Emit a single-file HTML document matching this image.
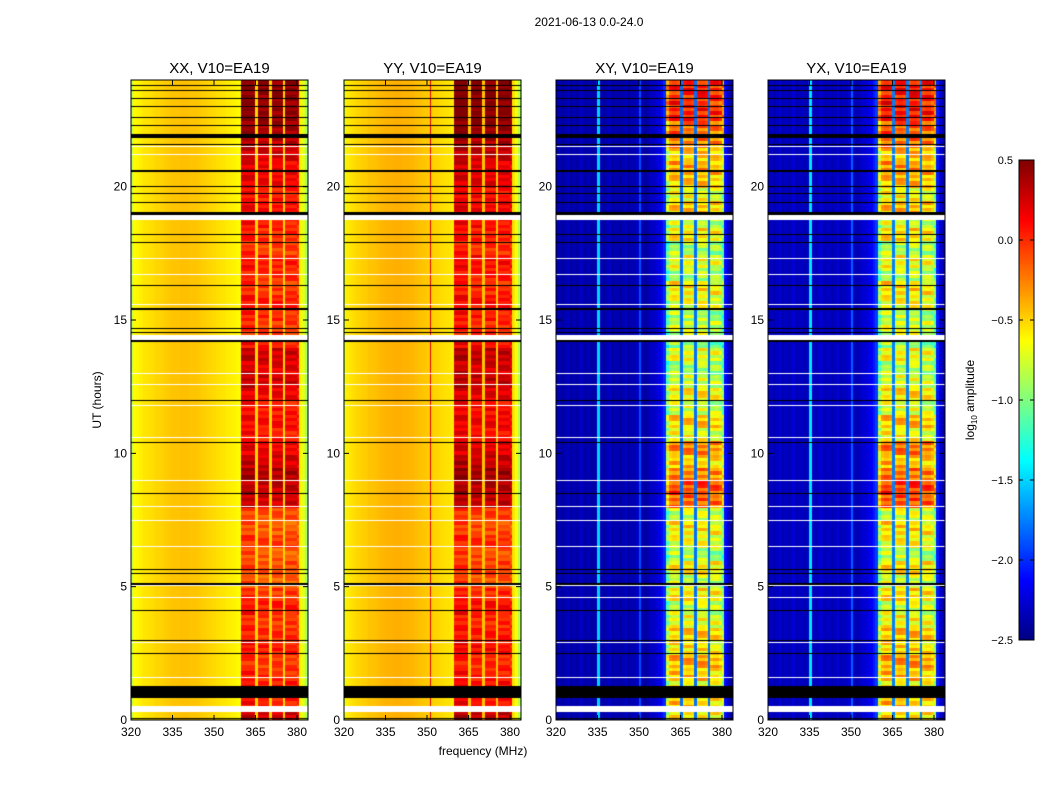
<!DOCTYPE html>
<html><head><meta charset="utf-8">
<style>
body{margin:0;background:#fff;width:1050px;height:800px;overflow:hidden;font-family:"Liberation Sans",sans-serif}
#wrap{position:relative;width:1050px;height:800px}
canvas{position:absolute}
svg{position:absolute;left:0;top:0}
</style></head>
<body>
<div id="wrap">
<canvas id="c0" width="177" height="640" style="left:131px;top:80px"></canvas>
<canvas id="c1" width="177" height="640" style="left:344px;top:80px"></canvas>
<canvas id="c2" width="177" height="640" style="left:556px;top:80px"></canvas>
<canvas id="c3" width="177" height="640" style="left:768px;top:80px"></canvas>
<canvas id="cb" width="15" height="480" style="left:1019px;top:160px"></canvas>
<svg id="ov" width="1050" height="800"></svg>
</div>
<script>
// ---- data ----
const panelTitles = ["XX, V10=EA19","YY, V10=EA19","XY, V10=EA19","YX, V10=EA19"];
const freqTicks = [320,335,350,365,380];
const timeTicks = [0,5,10,15,20];
const cbTicks = [0.5,0.0,-0.5,-1.0,-1.5,-2.0,-2.5];
// frequency profile (1 MHz bins, 320..384) for parallel hands
const specPar = [-0.8,-0.62,-0.6,-0.58,-0.56,-0.55,-0.54,-0.53,-0.52,-0.5,-0.5,-0.49,-0.48,-0.47,-0.46,-0.45,-0.45,-0.45,-0.44,-0.44,-0.44,-0.45,-0.45,-0.45,-0.46,-0.47,-0.48,-0.49,-0.5,-0.51,-0.52,-0.53,-0.54,-0.55,-0.56,-0.57,-0.58,-0.59,-0.6,-0.62,
 0.0,0.0,0.0,0.0,0.0,-0.5,-0.05,-0.05,-0.05,-0.05,-0.5,-0.05,-0.05,-0.05,-0.05,-0.5,-0.05,-0.05,-0.05,-0.05,-0.1,-0.6,-0.7,-0.9,-1.0];
// frequency profile for cross hands
const specX = [-2.35,-2.35,-2.4,-2.35,-2.3,-2.4,-2.35,-2.4,-2.35,-2.3,-2.4,-2.35,-2.35,-2.4,-2.35,-1.5,-2.35,-2.4,-2.35,-2.3,-2.4,-2.35,-2.35,-2.4,-2.35,-2.3,-2.4,-2.35,-2.35,-2.3,-1.9,-2.35,-2.4,-2.35,-2.3,-2.3,-2.25,-2.2,-2.1,-2.0,
 -0.9,-0.6,-0.55,-0.55,-0.6,-1.8,-0.6,-0.55,-0.55,-0.6,-1.8,-0.6,-0.55,-0.55,-0.6,-1.8,-0.65,-0.6,-0.6,-0.7,-0.9,-2.1,-2.3,-2.4,-2.4];
// band boost per half hour (0..24h), parallel and cross
const boostPar = [0.3,0.1,0.1,0.05,0,0.1,0.05,0,0.1,0,-0.1,-0.05,-0.1,0,-0.1,-0.05,0.3,0.35,0.4,0.3,0.2,0.1,0.15,0.1,0.2,0.3,0.25,0.3,0.1,0,0.05,0.1,0,0.05,0.1,0,0.05,0.1,0.15,0.1,0.2,0.2,0.3,0.35,0.45,0.5,0.5,0.5];
const boostX = [0,0.1,-0.1,0.1,0.2,0,0.1,-0.1,-0.2,0,-0.2,0,-0.3,-0.1,0,-0.2,0.4,0.5,0.3,0.1,0.3,-0.1,0.1,-0.2,0,-0.2,-0.3,-0.1,-0.4,-0.2,-0.3,-0.1,0,-0.3,-0.1,-0.3,0,-0.2,0.1,-0.1,0.1,0.2,0.1,0.3,0.4,0.6,0.6,0.6];
// fine per-row texture (eighth-hour rows)
const texture = [0.08,-0.06,0.04,-0.08,0.1,-0.04,0.0,-0.1,0.06];
// flagged rows (hours): black and white lines, [hour, thickness px]
const blackFlags = [[0.05,1],[1.05,11],[1.25,1],[2.5,1],[3.0,1],[4.1,1],[5.1,3],[5.5,1],[5.65,1],[8.5,1],[10.4,1],[12.0,1],[14.2,2],[14.55,1],[14.7,1],[15.4,2],[16.3,1],[17.9,1],[18.2,1],[19.0,3],[19.4,1],[19.75,1],[20,1],[20.6,2],[21.6,1],[21.9,4],[22.3,1],[22.6,1],[23.0,1],[23.3,1],[23.6,1],[23.8,1]];
const whiteFlags = [[0.4,6],[1.6,1],[2.9,1],[4.6,1],[5.05,1],[6.5,1],[7.5,1],[8.0,1],[9.0,1],[10.6,1],[11.8,1],[12.6,1],[13.0,1],[14.35,5],[15.6,1],[16.7,1],[17.3,1],[18.85,5],[21.5,1],[21.2,1]];
const panelX = [131,344,556,768];
const fmin = 320, tmax = 24;
const vmin = -2.5, vmax = 0.5;

function jet(v){
  let t=(v-vmin)/(vmax-vmin); t=Math.max(0,Math.min(1,t));
  const f=x=>Math.max(0,Math.min(1,x));
  const r=f(1.5-Math.abs(4*t-3)), g=f(1.5-Math.abs(4*t-2)), b=f(1.5-Math.abs(4*t-1));
  return `rgb(${Math.round(r*255)},${Math.round(g*255)},${Math.round(b*255)})`;
}
const W=177,H=640;
function xp(f){return (f-fmin)*166/60;}
function yp(h){return H-h*H/tmax;}

for(let p=0;p<4;p++){
  const ctx=document.getElementById('c'+p).getContext('2d');
  const spec = p<2?specPar:specX;
  const boost = p<2?boostPar:boostX;
  const yy = (p===1||p===3)?0.05:0;
  const nr = boost.length*4;
  for(let r=0;r<nr;r++){
    for(let c=0;c<spec.length;c++){
      const band = spec[c]>(p<2?-0.2:-1.0) ? 1 : 0;
      const v = spec[c] + band*(boost[Math.floor(r/4)] + texture[(r+Math.floor(c/5))%texture.length]*(p<2?1:2)) + yy;
      ctx.fillStyle=jet(v);
      const x0=xp(fmin+c), x1=xp(fmin+c+1);
      const y0=yp((r+1)*0.125), y1=yp(r*0.125);
      ctx.fillRect(Math.floor(x0),Math.floor(y0),Math.ceil(x1-x0)+1,Math.ceil(y1-y0)+1);
    }
  }
  if(p===1){ctx.fillStyle='rgb(230,0,0)';ctx.fillRect(Math.round(xp(351)),0,1,H);}
  for(const [h,t] of blackFlags){ctx.fillStyle='#000';ctx.fillRect(0,Math.round(yp(h)-t/2),W,t);}
  for(const [h,t] of whiteFlags){ctx.fillStyle='#fff';ctx.fillRect(0,Math.round(yp(h)-t/2),W,t);}
}
// colorbar
{const ctx=document.getElementById('cb').getContext('2d');
 for(let y=0;y<480;y++){ctx.fillStyle=jet(vmax-(y/480)*(vmax-vmin));ctx.fillRect(0,y,15,1);}}

// overlay
const NS='http://www.w3.org/2000/svg', ov=document.getElementById('ov');
function el(tag,attrs,txt){const e=document.createElementNS(NS,tag);for(const k in attrs)e.setAttribute(k,attrs[k]);if(txt!==undefined)e.textContent=txt;ov.appendChild(e);return e;}
let e=el('text',{x:589,y:26,'font-size':12,'text-anchor':'middle'},'2021-06-13 0.0-24.0');


for(let p=0;p<4;p++){
  const X=panelX[p];
  e=el('rect',{x:X,y:80,width:177,height:640,fill:'none',stroke:'#000','stroke-width':1});
  
  
  e=el('text',{x:X+88.5,y:73,'font-size':15,'text-anchor':'middle'},panelTitles[p]);
  
  
  for(const f of freqTicks){
    const x=X+xp(f);
    el('line',{x1:x,x2:x,y1:720,y2:715,stroke:'#000'});
    el('line',{x1:x,x2:x,y1:80,y2:85,stroke:'#000'});
    e=el('text',{x:x,y:736,'font-size':12,'text-anchor':'middle'},String(f));
    
    
  }
  for(const h of timeTicks){
    const y=80+yp(h);
    el('line',{x1:X,x2:X+5,y1:y,y2:y,stroke:'#000'});
    el('line',{x1:X+177,x2:X+172,y1:y,y2:y,stroke:'#000'});
    e=el('text',{x:X-4,y:y+4,'font-size':12,'text-anchor':'end'},String(h));
    
    
  }
}
e=el('text',{x:483,y:755,'font-size':12,'text-anchor':'middle'},'frequency (MHz)');


e=el('text',{x:0,y:0,'font-size':12,'text-anchor':'middle',transform:'translate(101,400) rotate(-90)'},'UT (hours)');


e=el('rect',{x:1019,y:160,width:15,height:480,fill:'none',stroke:'#000'});


for(const v of cbTicks){
  const y=160+(vmax-v)/(vmax-vmin)*480;
  el('line',{x1:1019,x2:1023,y1:y,y2:y,stroke:'#000'});
  el('line',{x1:1034,x2:1030,y1:y,y2:y,stroke:'#000'});
  e=el('text',{x:1013,y:y+4,'font-size':11,'text-anchor':'end'},(v<0?'\u2212':'')+Math.abs(v).toFixed(1));
  
  
}
e=el('text',{x:0,y:0,'font-size':12,'text-anchor':'middle',transform:'translate(974,400) rotate(-90)'});


e.innerHTML='log<tspan font-size="8" dy="3">10</tspan><tspan dy="-3"> amplitude</tspan>';
</script>
</body></html>
